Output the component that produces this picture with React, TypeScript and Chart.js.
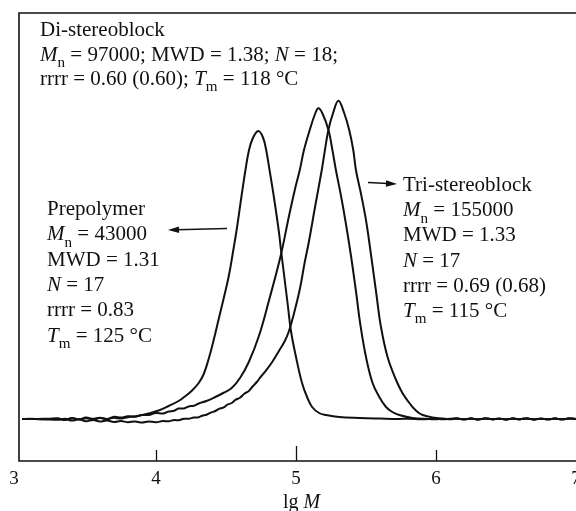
import React, { useEffect, useRef } from "react";
import { Chart, registerables } from "chart.js";

Chart.register(...registerables);

// ---- Data (lg M vs. detector signal, baseline = 0) ----
const baselineTailX = [6.15, 6.2, 6.25, 6.3, 6.35, 6.4, 6.45, 6.5, 6.55, 6.6, 6.65, 6.7, 6.75, 6.8, 6.85, 6.9, 6.95, 7.0];
const baselineTailY = [0.4, -0.3, 0.4, -0.4, 0.5, -0.2, 0.3, -0.5, 0.4, -0.2, 0.5, -0.4, 0.3, -0.3, 0.5, -0.3, 0.4, 0];

const prepolymerX = [3.043, 3.1, 3.2, 3.3, 3.35, 3.4, 3.45, 3.5, 3.55, 3.6, 3.65, 3.7, 3.75, 3.8, 3.875, 3.946, 4.018, 4.09, 4.161, 4.197, 4.254, 4.305, 4.341, 4.376, 4.412, 4.448, 4.484, 4.52, 4.55, 4.577, 4.613, 4.639, 4.663, 4.692, 4.73, 4.763, 4.787, 4.811, 4.842, 4.878, 4.892, 4.914, 4.943, 4.964, 5.0, 5.043, 5.079, 5.115, 5.165, 5.215, 5.308, 5.452, 5.6, 5.738, 5.8, 5.9, 6.0, 6.05, 6.1];
const prepolymerY = [0, 0.2, -0.2, 0.4, -0.7, 1, -0.3, 0.8, -0.6, 1, 0, 1.2, 0.5, 1.8, 3.3, 5.5, 8.5, 13, 18, 21.5, 28, 36, 45, 60, 79, 100, 121, 143, 167, 190, 225, 249, 268, 281, 288, 282, 269, 249, 222, 187, 170, 145, 112, 88, 62, 36, 22, 12, 6, 4, 2, 1, 0.4, 0, 0.3, -0.2, 0.3, -0.3, 0.2];

const diX = [3.043, 3.1, 3.2, 3.3, 3.35, 3.4, 3.45, 3.5, 3.55, 3.6, 3.65, 3.7, 3.75, 3.8, 3.85, 3.9, 3.946, 4.0, 4.05, 4.09, 4.13, 4.161, 4.2, 4.233, 4.27, 4.305, 4.36, 4.424, 4.48, 4.541, 4.6, 4.663, 4.735, 4.806, 4.89, 4.95, 4.993, 5.027, 5.057, 5.098, 5.136, 5.16, 5.189, 5.232, 5.26, 5.285, 5.323, 5.358, 5.394, 5.43, 5.459, 5.5, 5.547, 5.595, 5.643, 5.688, 5.738, 5.832, 5.953, 6.0, 6.05, 6.1];
const diY = [0, 0, 0.2, 0.4, -1, 0.8, -0.6, 1.5, 0.2, 1.3, -0.2, 2.2, 1.5, 2.8, 2.2, 4, 4, 6, 5.5, 7.5, 8.3, 10.5, 10.5, 12.5, 13.3, 15.5, 18, 22, 26, 31, 41, 57, 83, 118, 163, 203, 230, 249, 269, 289, 305, 310.7, 305.5, 289, 269, 249, 222, 194, 162, 126, 95, 62, 36, 22, 12, 7, 4, 1, 0, -0.3, 0.3, -0.2];

const triX = [3.043, 3.1, 3.2, 3.3, 3.35, 3.4, 3.45, 3.5, 3.55, 3.6, 3.65, 3.7, 3.75, 3.8, 3.85, 3.9, 3.946, 4.0, 4.05, 4.09, 4.13, 4.161, 4.2, 4.233, 4.27, 4.305, 4.33, 4.36, 4.39, 4.424, 4.45, 4.48, 4.51, 4.541, 4.57, 4.6, 4.63, 4.663, 4.69, 4.72, 4.75, 4.783, 4.83, 4.878, 4.92, 4.95, 4.99, 5.029, 5.06, 5.093, 5.136, 5.184, 5.201, 5.232, 5.265, 5.303, 5.344, 5.38, 5.409, 5.428, 5.466, 5.502, 5.538, 5.573, 5.607, 5.654, 5.715, 5.76, 5.81, 5.853, 5.905, 6.001, 6.05, 6.097];
const triY = [0, 0, -0.2, -0.8, 0.2, -1.6, -0.3, -2.2, -1, -2.6, -1.5, -3, -2, -3.2, -2.4, -3.5, -2.5, -3.2, -2, -2.3, -1, -1.3, 0.3, 0.2, 1.5, 1.8, 3.3, 4.2, 6.3, 8, 10.2, 11.3, 14.3, 16, 19.3, 21.2, 25.2, 28, 32.5, 37, 42.5, 48, 57, 68, 78, 88, 108, 131, 155, 178, 212, 249, 264, 289.5, 306, 318.3, 306, 289, 269, 249, 224, 197, 162, 126, 92, 62, 39, 26, 16, 9, 4, 1, 0.3, 0];

const xTickValues = [3, 4, 5, 6, 7];
const xTickLabels = ["3", "4", "5", "6", "7"];

type Seg = [string, string?];

const xAxisTitle: Seg[] = [["lg "], ["M", "i"]];

const diText: Seg[][] = [
  [["Di-stereoblock"]],
  [["M", "i"], ["n", "s"], [" = 97000; MWD = 1.38; "], ["N", "i"], [" = 18;"]],
  [["rrrr = 0.60 (0.60); "], ["T", "i"], ["m", "s"], [" = 118 °C"]],
];
const preText: Seg[][] = [
  [["Prepolymer"]],
  [["M", "i"], ["n", "s"], [" = 43000"]],
  [["MWD = 1.31"]],
  [["N", "i"], [" = 17"]],
  [["rrrr = 0.83"]],
  [["T", "i"], ["m", "s"], [" = 125 °C"]],
];
const triText: Seg[][] = [
  [["Tri-stereoblock"]],
  [["M", "i"], ["n", "s"], [" = 155000"]],
  [["MWD = 1.33"]],
  [["N", "i"], [" = 17"]],
  [["rrrr = 0.69 (0.68)"]],
  [["T", "i"], ["m", "s"], [" = 115 °C"]],
];

const FONT = '"Liberation Serif", "Times New Roman", serif';
const INK = "#111";

function zip(xs: number[], ys: number[]) {
  return xs.map((x, i) => ({ x, y: ys[i] }));
}

function drawRich(ctx: CanvasRenderingContext2D, x: number, y: number, segs: Seg[], size: number) {
  let cx = x;
  for (const [t, st] of segs) {
    const italic = !!st && st.includes("i");
    const sub = !!st && st.includes("s");
    const fs = sub ? size * 0.72 : size;
    ctx.font = `${italic ? "italic " : ""}${fs}px ${FONT}`;
    ctx.fillText(t, cx, sub ? y + size * 0.3 : y);
    cx += ctx.measureText(t).width;
  }
  return cx - x;
}

function measureRich(ctx: CanvasRenderingContext2D, segs: Seg[], size: number) {
  let w = 0;
  for (const [t, st] of segs) {
    const italic = !!st && st.includes("i");
    const sub = !!st && st.includes("s");
    const fs = sub ? size * 0.72 : size;
    ctx.font = `${italic ? "italic " : ""}${fs}px ${FONT}`;
    w += ctx.measureText(t).width;
  }
  return w;
}

function drawBlock(ctx: CanvasRenderingContext2D, x: number, y0: number, lh: number, lines: Seg[][], size: number) {
  lines.forEach((l, i) => drawRich(ctx, x, y0 + i * lh, l, size));
}

function arrow(ctx: CanvasRenderingContext2D, x1: number, y1: number, x2: number, y2: number) {
  const a = Math.atan2(y2 - y1, x2 - x1);
  const hl = 11, hw = 3.2;
  ctx.beginPath();
  ctx.moveTo(x1, y1);
  ctx.lineTo(x2 - Math.cos(a) * hl * 0.8, y2 - Math.sin(a) * hl * 0.8);
  ctx.stroke();
  ctx.beginPath();
  ctx.moveTo(x2, y2);
  ctx.lineTo(x2 - Math.cos(a) * hl - Math.sin(a) * hw, y2 - Math.sin(a) * hl + Math.cos(a) * hw);
  ctx.lineTo(x2 - Math.cos(a) * hl + Math.sin(a) * hw, y2 - Math.sin(a) * hl - Math.cos(a) * hw);
  ctx.closePath();
  ctx.fill();
}

const decor = {
  id: "decor",
  afterDraw(chart: any) {
    const { ctx, chartArea } = chart;
    const xs = chart.scales.x;
    const left = chartArea.left + 3;
    const top = chartArea.top;
    const bottom = chartArea.bottom;
    const right = chart.width;
    ctx.save();
    ctx.strokeStyle = INK;
    ctx.fillStyle = INK;
    ctx.lineWidth = 1.6;
    ctx.beginPath();
    ctx.moveTo(right, top);
    ctx.lineTo(left, top);
    ctx.lineTo(left, bottom);
    ctx.lineTo(right, bottom);
    ctx.stroke();
    // ticks
    ctx.lineWidth = 1.3;
    xTickValues.forEach((v) => {
      if (v === 3 || v === 7) return;
      const px = Math.round(xs.getPixelForValue(v)) + 0.5;
      const len = v === 5 ? 15 : 11;
      ctx.beginPath();
      ctx.moveTo(px, bottom);
      ctx.lineTo(px, bottom - len);
      ctx.stroke();
    });
    ctx.textBaseline = "alphabetic";
    ctx.textAlign = "center";
    ctx.font = `19px ${FONT}`;
    xTickValues.forEach((v, i) => {
      const px = xs.getPixelForValue(v) - (v === 3 ? 2 : 0);
      ctx.fillText(xTickLabels[i], px, bottom + 23);
    });
    // axis title
    ctx.textAlign = "left";
    const w = measureRich(ctx, xAxisTitle, 20);
    drawRich(ctx, xs.getPixelForValue(5.04) - w / 2, bottom + 47, xAxisTitle, 20);
    // annotations
    drawBlock(ctx, 40, 36, 24.5, diText, 21);
    drawBlock(ctx, 47, 215, 25.3, preText, 21);
    drawBlock(ctx, 403, 191, 25.2, triText, 21);
    ctx.lineWidth = 1.4;
    arrow(ctx, 227, 228.5, 168, 230);
    arrow(ctx, 368, 182.5, 397, 184);
    ctx.restore();
  },
};

export default function App() {
  const ref = useRef<HTMLCanvasElement>(null);
  useEffect(() => {
    if (!ref.current) return;
    const line = { borderColor: INK, borderWidth: 2, pointRadius: 0, fill: false, tension: 0.4 };
    const chart = new Chart(ref.current, {
      type: "line",
      data: {
        datasets: [
          { label: "Prepolymer", data: zip(prepolymerX.concat(baselineTailX), prepolymerY.concat(baselineTailY)), ...line },
          { label: "Di-stereoblock", data: zip(diX.concat(baselineTailX), diY.concat(baselineTailY)), ...line },
          { label: "Tri-stereoblock", data: zip(triX.concat(baselineTailX), triY.concat(baselineTailY)), ...line },
        ],
      },
      options: {
        responsive: false,
        animation: false,
        layout: { padding: { left: 16, top: 13, right: 0, bottom: 50 } },
        scales: {
          x: { type: "linear", min: 3, max: 7, display: false },
          y: { min: -42, max: 406, display: false },
        },
        plugins: { legend: { display: false }, tooltip: { enabled: false } },
      },
      plugins: [decor],
    });
    return () => chart.destroy();
  }, []);
  return (
    <div style={{ position: "absolute", left: 0, top: 0, background: "#fff" }}>
      <canvas ref={ref} width={576} height={511} style={{ display: "block" }} />
    </div>
  );
}
